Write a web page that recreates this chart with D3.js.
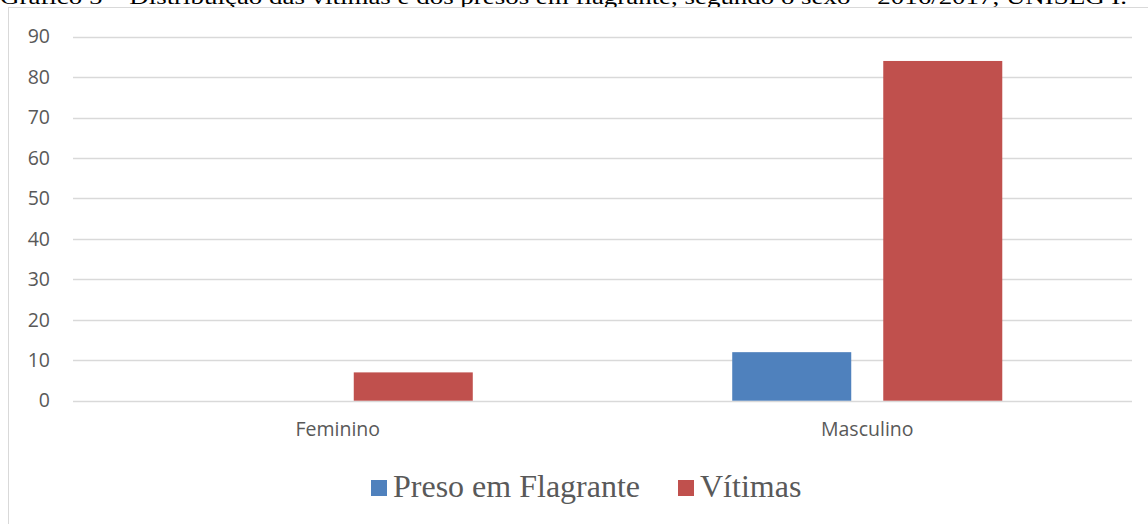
<!DOCTYPE html>
<html>
<head>
<meta charset="utf-8">
<script src="https://cdn.jsdelivr.net/npm/d3@7"></script>
<style>
  body { margin: 0; background: #fff; }
  svg { display: block; }
</style>
</head>
<body>
<div id="chart"></div>
<script>
// dados
var categorias = ["Feminino", "Masculino"];
var series = ["Preso em Flagrante", "Vítimas"];
var presoEmFlagrante = [0, 12];
var vitimas = [7, 84];
var yTicks = [0, 10, 20, 30, 40, 50, 60, 70, 80, 90];
var cores = ["#4f81bd", "#c0504d"];
var titulo = "Gráfico 5 – Distribuição das vítimas e dos presos em flagrante, segundo o sexo – 2016/2017, UNISEG I.";

drawBars("chart");

function drawBars(divname) {
    var width = 1148, height = 524;
    var left = 73, right = 1132, top = 36.7, bottom = 400.7;

    var svg = d3.select("#" + divname)
        .append("svg")
        .attr("width", width)
        .attr("height", height);

    // titulo (cortado no topo, como no original)
    svg.append("text")
        .attr("x", 0)
        .attr("y", 4)
        .attr("textLength", 1127)
        .attr("lengthAdjust", "spacingAndGlyphs")
        .style("font-family", "'Liberation Serif', 'Times New Roman', serif")
        .style("font-size", "21px")
        .attr("fill", "#000")
        .text(titulo);

    // moldura do gráfico
    svg.append("rect")
        .attr("x", 8.5)
        .attr("y", 7.5)
        .attr("width", 1160)
        .attr("height", 540)
        .attr("fill", "#fff")
        .attr("stroke", "#d9d9d9")
        .attr("stroke-width", 1);

    var y = d3.scaleLinear().domain([0, 90]).range([bottom, top]);
    var x0 = d3.scaleBand().domain(categorias).range([left, right])
        .paddingInner(0.49).paddingOuter(0.245);
    var x1 = d3.scaleBand().domain(series).range([0, x0.bandwidth()])
        .paddingInner(0.212).paddingOuter(0);

    // linhas de grade
    svg.append("g")
        .selectAll("line")
        .data(yTicks)
        .enter()
        .append("line")
        .attr("x1", left)
        .attr("x2", right)
        .attr("y1", function (d) { return Math.round(y(d)) + 0.5; })
        .attr("y2", function (d) { return Math.round(y(d)) + 0.5; })
        .attr("stroke", "#d9d9d9")
        .attr("stroke-width", 1.3);

    // eixo y
    var yAxis = svg.append("g")
        .attr("transform", "translate(" + (left - 23) + ",0)")
        .call(d3.axisLeft(y).tickValues(yTicks).tickSize(0).tickPadding(0));
    yAxis.select(".domain").remove();
    yAxis.selectAll("text")
        .attr("fill", "#595959")
        .style("font-family", "'Open Sans', 'Liberation Sans', sans-serif")
        .style("font-size", "19.5px");

    // eixo x
    var xAxis = svg.append("g")
        .attr("transform", "translate(0," + bottom + ")")
        .call(d3.axisBottom(x0).tickSize(0).tickPadding(21));
    xAxis.select(".domain").remove();
    xAxis.selectAll("text")
        .attr("fill", "#595959")
        .style("font-family", "'Open Sans', 'Liberation Sans', sans-serif")
        .style("font-size", "19.5px");

    var dados = categorias.map(function (c, i) {
        return { cat: c, valores: [
            { serie: series[0], v: presoEmFlagrante[i], cor: cores[0] },
            { serie: series[1], v: vitimas[i], cor: cores[1] }
        ] };
    });

    var grupos = svg.selectAll("g.grupo")
        .data(dados)
        .enter()
        .append("g")
        .attr("class", "grupo")
        .attr("transform", function (d) { return "translate(" + x0(d.cat) + ",0)"; });

    grupos.selectAll("rect")
        .data(function (d) { return d.valores; })
        .enter()
        .append("rect")
        .attr("x", function (d) { return x1(d.serie); })
        .attr("y", function (d) { return y(d.v); })
        .attr("width", x1.bandwidth())
        .attr("height", function (d) { return bottom - y(d.v); })
        .attr("fill", function (d) { return d.cor; });

    // legenda
    var legX = [371, 678];
    var leg = svg.selectAll("g.leg")
        .data(series)
        .enter()
        .append("g")
        .attr("class", "leg")
        .attr("transform", function (d, i) { return "translate(" + legX[i] + ",480)"; });
    leg.append("rect")
        .attr("width", 16)
        .attr("height", 16)
        .attr("fill", function (d, i) { return cores[i]; });
    leg.append("text")
        .attr("x", 22)
        .attr("y", 17)
        .style("font-family", "'Liberation Serif', 'Times New Roman', serif")
        .style("font-size", "32px")
        .attr("fill", "#595959")
        .text(function (d) { return d; });
}
</script>
</body>
</html>
